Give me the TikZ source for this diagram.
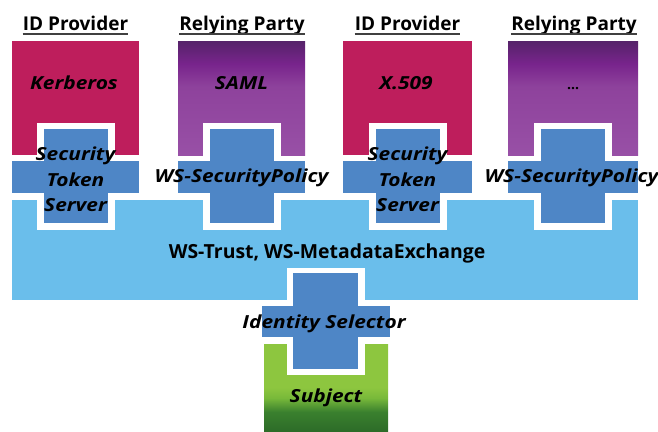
\documentclass[tikz,border=0pt]{standalone}
\usepackage{fontspec}
\setmainfont{Open Sans}
\newfontfamily\lblfont[FakeStretch=1.16]{Open Sans}
\definecolor{idp}{RGB}{190,30,92}
\definecolor{cross}{RGB}{78,134,198}
\definecolor{bus}{RGB}{106,190,235}
\definecolor{rptop}{RGB}{85,35,105}
\definecolor{rpmid}{RGB}{120,36,140}
\definecolor{rplow}{RGB}{142,66,156}
\definecolor{rpbot}{RGB}{152,80,166}
\definecolor{gtop}{RGB}{141,198,63}
\definecolor{gmid}{RGB}{120,185,58}
\definecolor{gdark}{RGB}{58,128,46}
\definecolor{gbot}{RGB}{45,108,40}
\pgfdeclareverticalshading{rpshade}{100bp}{color(0bp)=(rpbot); color(25bp)=(rpbot); color(55bp)=(rplow); color(65bp)=(rpmid); color(75bp)=(rptop); color(100bp)=(rptop)}
\pgfdeclareverticalshading{gshade}{100bp}{color(0bp)=(gbot); color(25bp)=(gbot); color(36bp)=(gdark); color(44bp)=(gmid); color(50bp)=(gtop); color(75bp)=(gtop); color(100bp)=(gtop)}
\begin{document}
\begin{tikzpicture}[x=1pt,y=-1pt,
  hdr/.style={font=\fontsize{19}{22}\selectfont\bfseries, anchor=base, inner sep=0pt},
  lbl/.style={font=\lblfont\fontsize{18}{22}\selectfont\bfseries\itshape, anchor=base, inner sep=0pt},
  bus lbl/.style={font=\fontsize{19.4}{22}\selectfont\bfseries, anchor=base, inner sep=0pt},
  uline/.style={line width=1.4pt, black!75},
  gap/.style={fill=white},
  crossfill/.style={fill=cross}]
\useasboundingbox (0,0) rectangle (658,431);

% ---- bus (WS-Trust) ----
\fill[bus] (12,200) rectangle (638,300);
\foreach \c in {75.5,241.5,407.5,573}{
  \fill[gap] (\c-39,199) rectangle (\c+39,230);
}
\fill[gap] (286.5,268) rectangle (364.5,301);

% ---- top boxes ----
\fill[idp] (12,41) rectangle (139,155);
\shade[shading=rpshade] (178,41) rectangle (305,155);
\fill[idp] (343,41) rectangle (472,155);
\shade[shading=rpshade] (508,41) rectangle (638,155);
\foreach \c in {75.5,241.5,407.5,573}{
  \fill[gap] (\c-39,123) rectangle (\c+39,156);
}

% ---- crosses ----
\fill[crossfill] (12,161) rectangle (139,193);
\fill[crossfill] (178,161) rectangle (305,193);
\fill[crossfill] (343,161) rectangle (472,193);
\fill[crossfill] (508,161) rectangle (638,193);
\foreach \c in {75.5,241.5,407.5,573}{
  \fill[crossfill] (\c-32,129) rectangle (\c+32,223);
}

% ---- subject ----
\shade[shading=gshade] (264,344) rectangle (388,431);
\fill[gap] (286.5,343) rectangle (364.5,375);
\fill[crossfill] (262,306) rectangle (390,337);
\fill[crossfill] (293,273) rectangle (358,369);

% ---- headers ----
\node[hdr] (h1) at (75.5,30) {ID Provider};
\node[hdr] (h2) at (242,30) {Relying Party};
\node[hdr] (h3) at (407.5,30) {ID Provider};
\node[hdr] (h4) at (574,30) {Relying Party};
\foreach \h in {h1,h2,h3,h4}{
  \draw[uline] ([yshift=-4pt]\h.base west) -- ([yshift=-4pt]\h.base east);
}

% ---- box labels ----
\node[lbl] (kerb) at (74,89) {Kerberos};
\node[lbl] (saml) at (241.5,89) {SAML};
\node[lbl] (x509) at (406,89) {X.509};
\node[font=\fontsize{14}{16}\selectfont\bfseries, anchor=base, inner sep=0pt] (etc) at (573,89) {...};

\node[lbl] (s1a) at (75.5,160) {Security};
\node[lbl] (s1b) at (75.5,186) {Token};
\node[lbl] (s1c) at (75.5,211) {Server};
\node[lbl] (s2a) at (407.5,160) {Security};
\node[lbl] (s2b) at (407.5,186) {Token};
\node[lbl] (s2c) at (407.5,211) {Server};

\node[lbl] (sp1) at (241.5,182) {WS-SecurityPolicy};
\node[lbl] (sp2) at (571.5,182) {WS-SecurityPolicy};

\node[bus lbl] (trust) at (327,258) {WS-Trust, WS-MetadataExchange};
\node[lbl] (idsel) at (324,328) {Identity Selector};
\node[lbl] (subj) at (326,402) {Subject};
\end{tikzpicture}
\end{document}
